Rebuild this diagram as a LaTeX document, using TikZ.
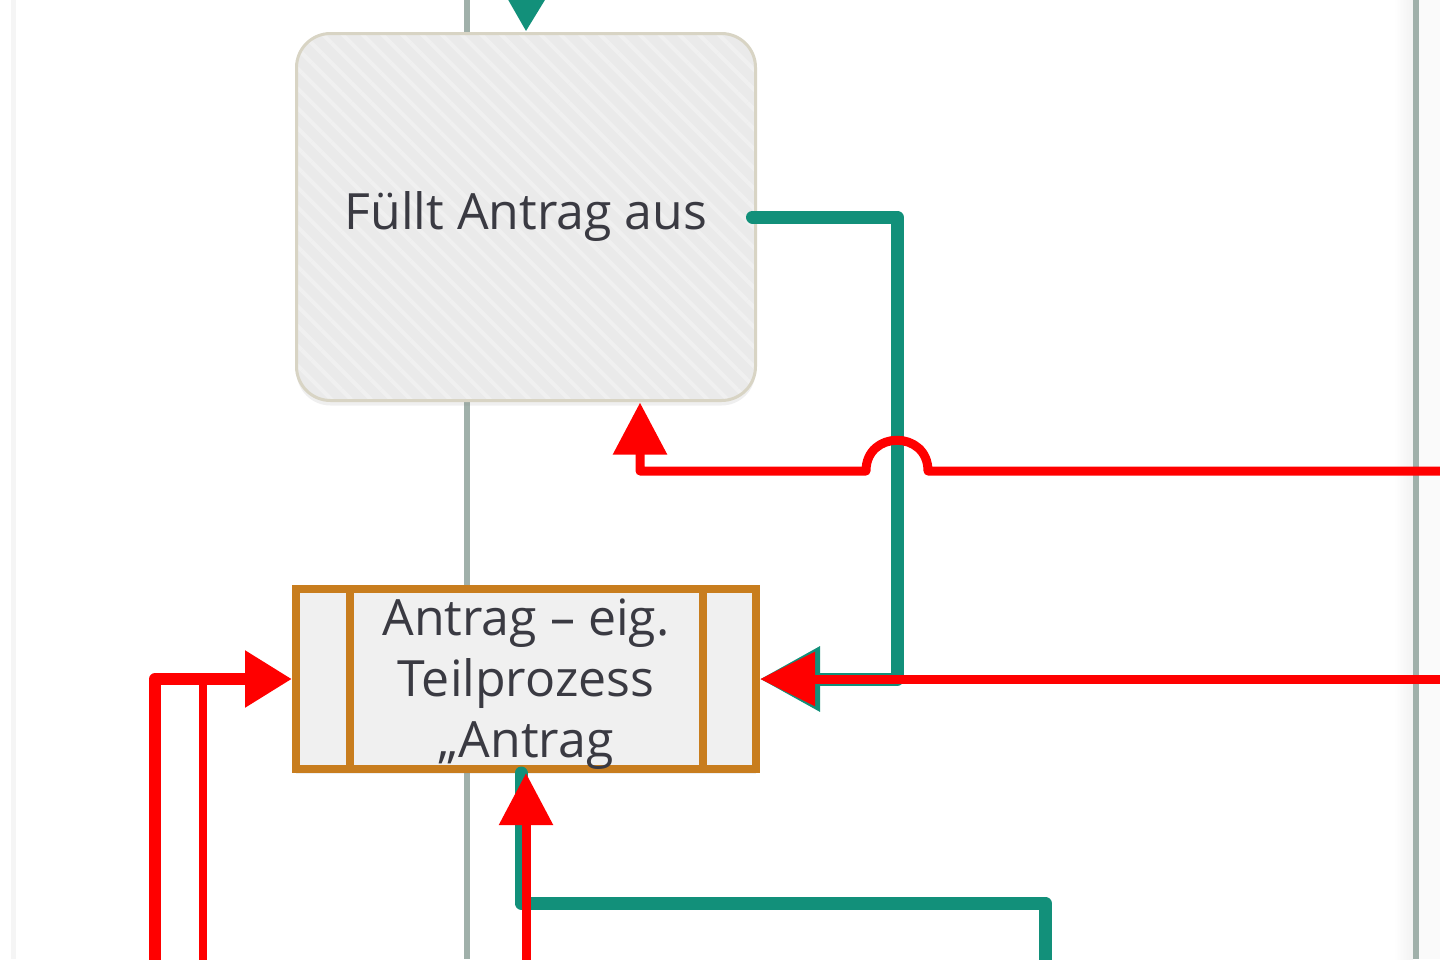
\documentclass[tikz,border=0pt]{standalone}
\usepackage{fontspec}
\setmainfont{Open Sans}
\usetikzlibrary{arrows.meta,shadows,patterns.meta}
\definecolor{lanegray}{RGB}{160,176,170}
\definecolor{flowgreen}{RGB}{18,144,122}
\definecolor{subframe}{RGB}{200,125,30}
\definecolor{subfill}{RGB}{240,240,240}
\definecolor{taskfill}{RGB}{234,234,234}
\definecolor{taskframe}{RGB}{216,212,196}
\definecolor{textgray}{RGB}{58,58,66}
\begin{document}
\begin{tikzpicture}[x=1pt,y=-1pt,
	lane/.style={lanegray,line width=6pt},
	task/.style={draw=taskframe,line width=3pt,rounded corners=34pt,minimum width=459pt,minimum height=367pt,
		drop shadow={shadow xshift=0pt,shadow yshift=-5pt,opacity=.12},preaction={fill=taskfill},
		pattern={Lines[angle=-45,distance=14pt,line width=4pt]},pattern color=white!30!taskfill,
		text=textgray,font=\fontsize{50}{62}\selectfont},
	subproc/.style={draw=subframe,line width=8pt,fill=subfill,minimum width=460pt,minimum height=180pt,
		inner sep=0pt,align=center,drop shadow={shadow xshift=0pt,shadow yshift=-5pt,opacity=.12},
		text=textgray,font=\fontsize{50}{61}\selectfont},
	greenline/.style={flowgreen,line width=13pt,line cap=round,line join=round},
	redline/.style={red,line width=9pt,line join=round},
	redtip/.style={-{Triangle[length=52pt,width=52pt]}}]
\useasboundingbox (0,0) rectangle (1440,959);
\fill[white] (0,0) rectangle (1440,959);
\fill[black!2] (1419,0) rectangle (1440,959);
\shade[left color=white,right color=black!5] (1394,0) rectangle (1413,959);
\draw[black!4,line width=5pt] (13,0) -- (13,959);
\foreach \x in {467,1416}
	\draw[lane] (\x,0) -- (\x,959);
\node[task] (fuellt) at (526,217) {Füllt Antrag aus};
\node[subproc] (antrag) at (526,679) {\rule{0pt}{46pt}Antrag – eig.\\Teilprozess\\„Antrag};
\draw[subframe,line width=8pt] ([xshift=58pt]antrag.north west) -- ([xshift=58pt]antrag.south west);
\draw[subframe,line width=8pt] ([xshift=-57pt]antrag.north east) -- ([xshift=-57pt]antrag.south east);
\coordinate (gt) at (527,-40);
\coordinate (gk1) at (897,679);
\coordinate (gb) at (1045,990);
\coordinate (gk2) at (521,903);
\coordinate (rt1) at (1470,471);
\coordinate (rk1) at (640,471);
\coordinate (rt2) at (1470,679);
\coordinate (rb) at (526,990);
\coordinate (rl1) at (155,990);
\coordinate (rl2) at (203,990);
\draw[greenline,-{Triangle[length=34pt,width=37pt]}] (gt) -- (fuellt.north);
\draw[greenline,-{Triangle[length=60pt,width=62pt]}] ([xshift=-5pt]fuellt.east) -| (gk1) -- (antrag.east);
\draw[greenline] (gb) |- (gk2) -- (gk2 |- antrag.south);
\draw[redline,redtip] (rt1) -- (928,471) .. controls (928,430) and (866,430) .. (866,471) -- (rk1) -- (rk1 |- fuellt.south);
\draw[redline,-{Triangle[length=55pt,width=52pt]}] (rt2) -- (antrag.east);
\draw[redline,redtip] (rb) -- (antrag.south);
\draw[redline,line width=12pt,-{Triangle[length=47pt,width=54pt]}] (rl1) |- (antrag.west);
\draw[redline,line width=8pt] (rl2) -- (rl2 |- antrag.west);
\end{tikzpicture}
\end{document}
